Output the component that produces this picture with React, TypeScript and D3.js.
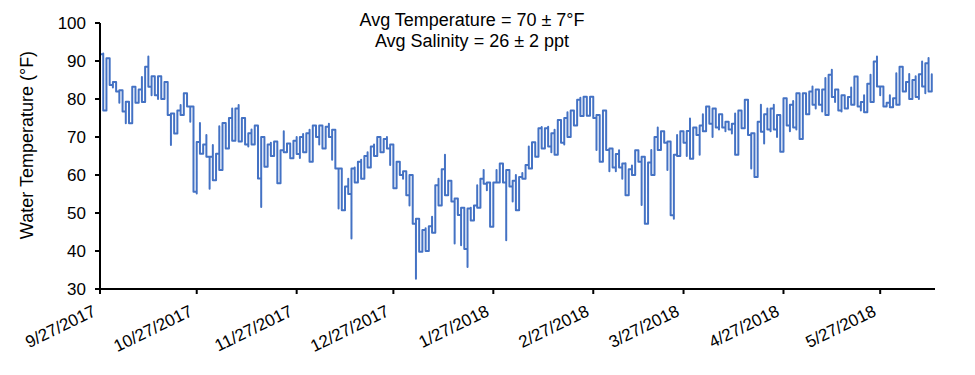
import React from "react";
import * as d3 from "d3";

// Daily water temperature ranges (°F), one entry per day starting 9/27/2017
const dailyLow: number[] = [
  84.6, 77, 78.4, 83.7, 83, 82, 79, 76.7, 73.6, 73.6,
  76.6, 79, 80, 79.2, 79.7, 83.2, 81, 81, 80, 80,
  81, 75.8, 67.9, 70.9, 74, 75.8, 78.4, 78, 74, 55.6,
  55.1, 65.6, 66, 64.8, 56.4, 58.6, 61.3, 61.3, 68, 67,
  70, 69, 69, 68.8, 70, 68, 67.5, 68, 70, 59.1,
  51.6, 62.2, 63, 65, 67, 57.8, 64, 66, 66, 64.4,
  65, 65.5, 64.5, 66, 67, 63.5, 69, 70, 68, 67,
  68, 70, 64, 61.7, 51.2, 50.7, 50.7, 55, 43.3, 58,
  59, 59, 61, 62, 63, 65, 65.5, 66, 67, 67,
  62.6, 56.5, 60, 60, 59, 54.7, 52, 47.2, 32.7, 39.8,
  41, 40, 44, 44.8, 51.2, 52, 55, 54.7, 55, 53,
  42, 49.5, 41.5, 40.5, 35.8, 48, 49.5, 51.4, 56, 57.7,
  56, 46.4, 56, 58, 59, 58, 42.8, 57, 53, 50.7,
  58, 59, 60, 61.7, 64.5, 64.8, 64.8, 67, 68.5, 67.5,
  66, 65.3, 67, 68.5, 68, 70, 70.5, 73, 75.8, 75.5,
  76, 75.6, 76, 75, 66.6, 63.5, 73, 66.6, 61, 62,
  61, 62, 59, 54.7, 56, 60, 61, 63.5, 52.1, 47.2,
  57, 60, 66, 66.6, 67, 68.5, 61.3, 49.4, 48.5, 65,
  67, 68.5, 65, 64.3, 70, 70.5, 65.3, 71.5, 71.5, 73.5,
  70, 72.5, 72, 72.5, 71.5, 72, 70.9, 65.3, 72, 72.3,
  72.3, 70.5, 61.7, 59.5, 66.5, 71.4, 68.3, 72, 71.5, 72,
  70, 66.1, 73.5, 73, 71.5, 72.5, 72, 69.5, 75, 76,
  76.7, 78.5, 77.5, 78.5, 76.7, 75.8, 78.5, 80.5, 79.2, 77,
  76.7, 77.5, 78.5, 78.5, 79.2, 78, 77, 76.5, 79.2, 79.2,
  82, 83.3, 81, 78, 78, 77.8, 77.8, 78.5, 82, 82,
  82, 80, 80, 80.5, 80, 83.3, 81.5, 82, 83,
];

const dailyHigh: number[] = [
  91.8, 92, 90.7, 86.8, 84.5, 83.5, 82.3, 80.2, 79.3, 78.5,
  83.2, 83.2, 82.5, 85.8, 88.5, 91.2, 86, 85, 86, 85.5,
  84.5, 80, 76.2, 75, 77, 78.4, 81.5, 79, 78, 75,
  68.7, 73.7, 68, 70.5, 64.8, 67.9, 65.6, 72.8, 73.7, 73.7,
  75, 77.5, 77.5, 78.4, 75, 72.5, 71, 72, 73, 72.3,
  70, 68.3, 68, 68.5, 68.8, 68.8, 66.5, 71.5, 68.3, 67.9,
  69, 70, 70, 70.8, 71, 71.9, 73, 72.5, 73, 72.7,
  72.7, 73.5, 71.9, 64.8, 61.7, 56.5, 57, 59, 61.7, 62,
  63.5, 64, 65, 66, 67.5, 68, 70, 70, 69.5, 70,
  68, 63.3, 63.5, 62, 61, 60.3, 60, 51.2, 48.5, 47.7,
  45.5, 46, 46.5, 49, 57.3, 59, 61.5, 65.3, 58.5, 56,
  53.8, 51, 51.4, 51.4, 51.2, 51.4, 52, 57.3, 59, 61.3,
  58, 58, 58, 61.3, 63, 61.5, 61.3, 58, 58.5, 60,
  59.5, 60.5, 62.6, 67.5, 68.6, 67, 72.3, 72.6, 72.3, 72.7,
  71, 71.9, 74.5, 74, 75, 76.5, 77, 77, 79.8, 80.3,
  80.6, 80.6, 80.6, 78.5, 75.8, 75.8, 77, 72, 67, 66,
  65.5, 66.5, 63, 63.1, 61.5, 62.5, 66.5, 64.5, 64.8, 61.3,
  63.3, 66.6, 70, 72.5, 71.5, 69.5, 68.8, 61.3, 65.3, 70.5,
  71.5, 71.5, 71.6, 74.9, 72.5, 72.5, 73, 76, 78, 77.5,
  77.5, 76.5, 76, 75.5, 74, 74, 73.5, 76.2, 77, 77,
  79.8, 75.5, 71, 68.8, 74, 78.5, 76, 77.5, 77.5, 78.5,
  75.8, 75.8, 80.2, 78.8, 78.5, 79.5, 81.5, 81.5, 81.5, 81.5,
  82, 83.3, 82.5, 82, 82.5, 85.5, 86.4, 87.7, 82.5, 80,
  81, 79.5, 80.5, 83, 85.9, 81, 79.2, 81, 84, 86.4,
  89.9, 91.2, 83.3, 80, 79, 81, 80.2, 86.8, 88.5, 86,
  84.5, 86.6, 85, 86, 86.5, 89.9, 89.4, 90.8, 86.5,
];

const startDateLabel = "9/27/2017";
const endDateLabel = "6/13/2018";
const xTickLabels: string[] = [
  "9/27/2017", "10/27/2017", "11/27/2017", "12/27/2017", "1/27/2018",
  "2/27/2018", "3/27/2018", "4/27/2018", "5/27/2018",
];
const yTicks: number[] = [30, 40, 50, 60, 70, 80, 90, 100];
const titleLines: string[] = ["Avg Temperature = 70 ± 7°F", "Avg Salinity = 26 ± 2 ppt"];
const yAxisTitle = "Water Temperature (°F)";

const W = 975;
const H = 375;
const plot = { left: 100, right: 935, top: 23, bottom: 289 };
const FONT = "'Liberation Sans', Arial, sans-serif";

export default function App() {
  const parse = d3.timeParse("%m/%d/%Y");
  const start = parse(startDateLabel) as Date;
  const end = parse(endDateLabel) as Date;

  const x = d3.scaleTime().domain([start, end]).range([plot.left, plot.right]);
  const y = d3.scaleLinear().domain([30, 100]).range([plot.bottom, plot.top]);

  type P = { date: Date; v: number };
  const pts: P[] = [];
  dailyLow.forEach((lo, i) => {
    const hi = dailyHigh[i];
    const date = d3.timeDay.offset(start, i);
    const order = i % 2 === 0 ? [lo, hi] : [hi, lo];
    order.forEach((v) => pts.push({ date, v }));
  });

  const line = d3
    .line<P>()
    .x((p) => x(p.date))
    .y((p) => y(p.v))
    .curve(d3.curveStepAfter);

  const tickDates = xTickLabels.map((s) => ({ label: s, date: parse(s) as Date }));

  return (
    <svg
      width={W}
      height={H}
      style={{ position: "absolute", left: 0, top: 0, background: "#fff" }}
      fontFamily={FONT}
    >
      <rect x={0} y={0} width={W} height={H} fill="#fff" />
      {titleLines.map((t, i) => (
        <text key={i} x={472} y={26 + i * 21} textAnchor="middle" fontSize={18} fill="#000">
          {t}
        </text>
      ))}
      <text
        transform={`translate(33,145) rotate(-90)`}
        textAnchor="middle"
        fontSize={18}
        fill="#000"
      >
        {yAxisTitle}
      </text>
      <path
        d={line(pts) || ""}
        fill="none"
        stroke="#4472C4"
        strokeWidth={2}
        strokeLinejoin="round"
        strokeLinecap="round"
      />
      <line x1={plot.left} x2={plot.left} y1={plot.top} y2={plot.bottom} stroke="#000" strokeWidth={2} />
      {yTicks.map((t) => (
        <g key={t}>
          <line x1={plot.left - 5} x2={plot.left} y1={y(t)} y2={y(t)} stroke="#000" strokeWidth={2} />
          <text x={86} y={y(t)} dy="0.35em" textAnchor="end" fontSize={17} fill="#000">
            {t}
          </text>
        </g>
      ))}
      <line x1={plot.left} x2={plot.right} y1={plot.bottom} y2={plot.bottom} stroke="#000" strokeWidth={2} />
      {tickDates.map((t) => (
        <g key={t.label}>
          <line
            x1={x(t.date)}
            x2={x(t.date)}
            y1={plot.bottom}
            y2={plot.bottom + 5}
            stroke="#000"
            strokeWidth={2}
          />
          <text
            transform={`translate(${x(t.date) - 3},${plot.bottom + 26}) rotate(-26)`}
            textAnchor="end"
            fontSize={17}
            fill="#000"
          >
            {t.label}
          </text>
        </g>
      ))}
    </svg>
  );
}
